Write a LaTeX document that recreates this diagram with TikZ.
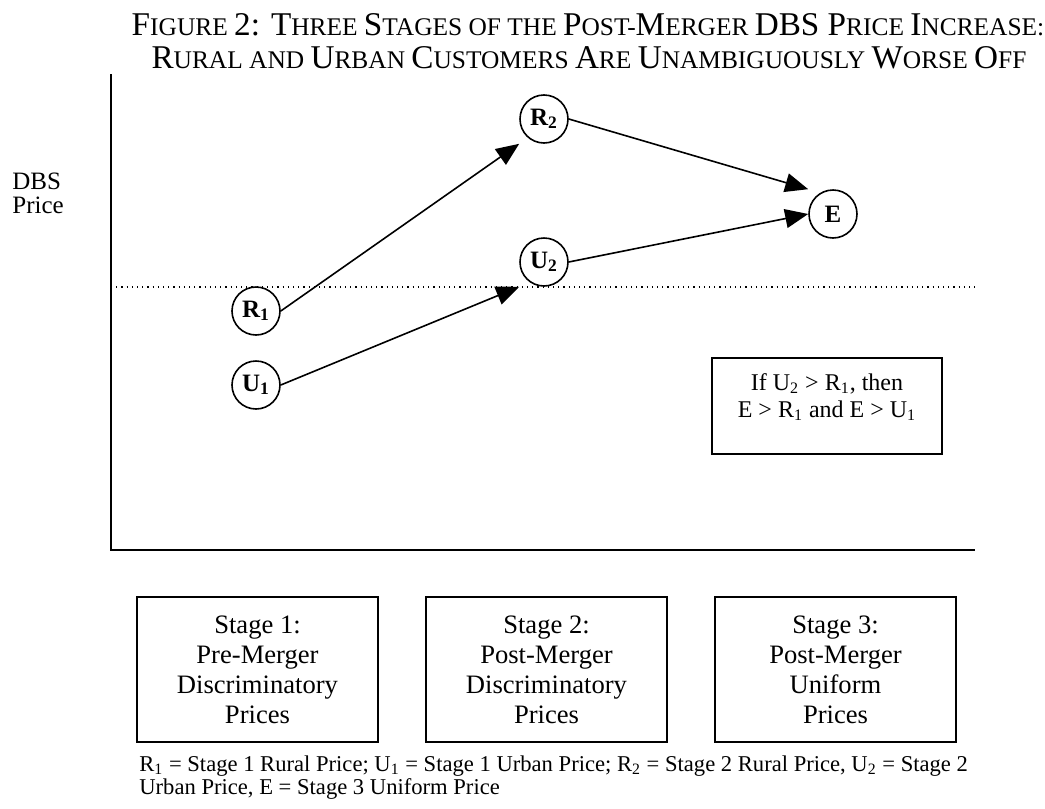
\documentclass[tikz,border=0pt]{standalone}
\usepackage{fontspec}
\setmainfont{Liberation Serif}
\usetikzlibrary{arrows.meta}
\tikzset{
  pricenode/.style={draw, circle, line width=0.8pt, minimum size=24pt, inner sep=0pt, font=\fontsize{12.5}{14}\selectfont\bfseries},
  stagebox/.style={draw, line width=1pt, minimum width=120.5pt, minimum height=72.5pt, align=center, font=\fontsize{13.3}{15}\selectfont},
  pricearrow/.style={line width=0.8pt, -{Triangle[length=11.5pt,width=9.5pt]}},
}
\newcommand{\bigc}[1]{{\fontsize{16.6}{18}\selectfont #1}}
\newcommand{\lbl}[2]{#1\textsubscript{#2}}

\begin{document}
\begin{tikzpicture}[x=0.5pt,y=-0.5pt]
  \useasboundingbox (0,0) rectangle (1045,809);
  % title
  \node[anchor=base, font=\fontsize{12.7}{14}\selectfont] (title1) at (588,35) {\bigc{F}IGURE \bigc{2: T}HREE \bigc{S}TAGES OF THE \bigc{P}OST-\bigc{M}ERGER \bigc{DBS P}RICE \bigc{I}NCREASE:};
  \node[anchor=base, font=\fontsize{12.7}{14}\selectfont] (title2) at (589,68) {\bigc{R}URAL AND \bigc{U}RBAN \bigc{C}USTOMERS \bigc{A}RE \bigc{U}NAMBIGUOUSLY \bigc{W}ORSE \bigc{O}FF};
  % axes
  \draw[line width=1.1pt] (111,74) -- (111,550) -- (975,550);
  \draw[line width=0.6pt, dotted] (111,287) -- (975,287);
  \node[anchor=base west, align=left, inner sep=0pt, font=\fontsize{12.5}{12}\selectfont] (ylabel) at (12,213) {DBS\\Price};
  % prices
  \node[pricenode] (r1) at (256,311) {\lbl{R}{1}};
  \node[pricenode] (u1) at (256,385) {\lbl{U}{1}};
  \node[pricenode] (r2) at (544,119) {\lbl{R}{2}};
  \node[pricenode] (u2) at (544,262) {\lbl{U}{2}};
  \node[pricenode] (e) at (833,214) {E};
  \draw[pricearrow] (r1.east) -- (r2.west |- r2.south);
  \draw[pricearrow] (u1.east) -- (u2.west |- u2.south);
  \draw[pricearrow] (r2.east) -- (e.west |- e.north);
  \draw[pricearrow] (u2.east) -- (e.west);
  % condition
  \node[draw, line width=1pt, minimum width=115pt, minimum height=48pt, anchor=north] (cond) at (827,357) {};
  \node[anchor=north, align=center, inner sep=0pt, font=\fontsize{12}{13.5}\selectfont] (condtext) at (827,373) {If \lbl{U}{2} > \lbl{R}{1}, then\\E > \lbl{R}{1} and E > \lbl{U}{1}};
  % stages
  \node[stagebox] (stage1) at (257.5,669.5) {Stage 1:\\Pre-Merger\\Discriminatory\\Prices};
  \node[stagebox] (stage2) at (546.5,669.5) {Stage 2:\\Post-Merger\\Discriminatory\\Prices};
  \node[stagebox] (stage3) at (835.5,669.5) {Stage 3:\\Post-Merger\\Uniform\\Prices};
  % key
  \node[anchor=north west, align=left, inner sep=0pt, font=\fontsize{11.3}{11.5}\selectfont] (key) at (139,755) {\lbl{R}{1} = Stage 1 Rural Price; \lbl{U}{1} = Stage 1 Urban Price; \lbl{R}{2} = Stage 2 Rural Price, \lbl{U}{2} = Stage 2\\Urban Price, E = Stage 3 Uniform Price};
\end{tikzpicture}
\end{document}
